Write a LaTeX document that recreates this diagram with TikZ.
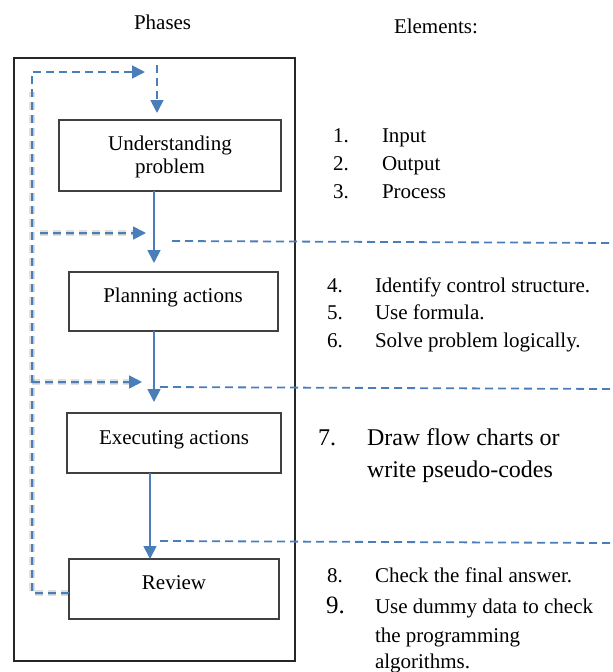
\documentclass[tikz,border=0pt]{standalone}
\usepackage{fontspec}
\setmainfont{Liberation Serif}
\usetikzlibrary{arrows.meta}
\definecolor{flowblue}{RGB}{74,126,187}
\begin{document}
\begin{tikzpicture}[x=1pt,y=-1pt,
  every node/.style={inner sep=0pt, outer sep=0pt},
  txt/.style={font=\fontsize{21}{28}\selectfont},
  bigtxt/.style={font=\fontsize{24}{32}\selectfont},
  frame/.style={draw=black!85, line width=1.5pt, rectangle},
  phase/.style={draw=black!75, line width=1.1pt, rectangle},
  flow/.style={draw=flowblue, line width=1.8pt, -{Triangle[width=13pt,length=13pt]}},
  feedback/.style={draw=flowblue, line width=1.8pt, dash pattern=on 8pt off 5pt},
  fbarrow/.style={feedback, -{Triangle[width=13pt,length=13pt]}},
  ghost/.style={draw=black, line width=6pt, dash pattern=on 8pt off 5pt, opacity=0.12},
  ghostcore/.style={draw=black, line width=3pt, dash pattern=on 8pt off 5pt, opacity=0.12},
]
\useasboundingbox (0,0) rectangle (613,672);

% column headings
\node[txt, anchor=base west] (hphase) at (134,29) {Phases};
\node[txt, anchor=base west] (helem) at (394,33) {Elements:};

% outer frame and phase boxes
\node[frame, minimum width=281pt, minimum height=603pt] (frm) at (154.5,359.5) {};
\node[phase, minimum width=222pt, minimum height=71pt] (u) at (170,155.5) {};
\node[phase, minimum width=209pt, minimum height=59pt] (p) at (173.5,301.5) {};
\node[phase, minimum width=214pt, minimum height=60pt] (e) at (174,443) {};
\node[phase, minimum width=210pt, minimum height=60pt] (r) at (174,589) {};

\node[txt, anchor=base] (ut1) at (170,150) {Understanding};
\node[txt, anchor=base] (ut2) at (170,173) {problem};
\node[txt, anchor=base] (pt) at (173,302) {Planning actions};
\node[txt, anchor=base] (et) at (174,444) {Executing actions};
\node[txt, anchor=base] (rt) at (174,589) {Review};

% main flow
\coordinate (c1) at (154,0);
\coordinate (c2) at (150,0);
\draw[flow] (u.south -| c1) -- ([yshift=9pt]p.north -| c1);
\draw[flow] (p.south -| c1) -- ([yshift=11pt]e.north -| c1);
\draw[flow] (e.south -| c2) -- (r.north -| c2);

% feedback loop and entry arrows
\coordinate (loopbl) at (32,593);
\coordinate (looptl) at (32,72);
\coordinate (looptip) at (145,72);
\coordinate (dropstart) at (157,65);
\coordinate (in1) at (40,233);
\coordinate (in1tip) at (146,233);
\coordinate (in2) at (32,382);
\coordinate (in2tip) at (142,382);

% soft shadows under the feedback lines
\begin{scope}[shift={(2,6)}]
  \foreach \st in {ghost, ghostcore} {
    \draw[\st] (in1) -- ([xshift=-4pt]in1tip);
    \draw[\st] (in2) -- ([xshift=-4pt]in2tip);
    \draw[\st] ([yshift=-4pt]r.west) -- (loopbl) -- ([yshift=-20pt]looptl);
  }
\end{scope}

\draw[fbarrow] ([yshift=-4pt]r.west) -- (loopbl) -- (looptl) -- (looptip);
\draw[fbarrow] (dropstart) -- ([yshift=7pt]u.north -| dropstart);
\draw[fbarrow] (in1) -- (in1tip);
\draw[fbarrow] (in2) -- (in2tip);

% separators between element groups
\coordinate (s1a) at (172,241); \coordinate (s1b) at (613,243);
\coordinate (s2a) at (160,387); \coordinate (s2b) at (613,389);
\coordinate (s3a) at (160,541); \coordinate (s3b) at (613,543);
\draw[feedback] (s1a) -- (s1b);
\draw[feedback] (s2a) -- (s2b);
\draw[feedback] (s3a) -- (s3b);

% elements
\node[txt, anchor=base west] (n1) at (333,142) {1.};
\node[txt, anchor=base west] (l1) at (382,142) {Input};
\node[txt, anchor=base west] (n2) at (333,170) {2.};
\node[txt, anchor=base west] (l2) at (382,170) {Output};
\node[txt, anchor=base west] (n3) at (333,198) {3.};
\node[txt, anchor=base west] (l3) at (382,198) {Process};

\node[txt, anchor=base west] (n4) at (327,292) {4.};
\node[txt, anchor=base west] (l4) at (375,292) {Identify control structure.};
\node[txt, anchor=base west] (n5) at (327,319) {5.};
\node[txt, anchor=base west] (l5) at (375,319) {Use formula.};
\node[txt, anchor=base west] (n6) at (327,347) {6.};
\node[txt, anchor=base west] (l6) at (375,347) {Solve problem logically.};

\node[bigtxt, anchor=base west] (n7) at (318,445) {7.};
\node[bigtxt, anchor=base west] (l7a) at (367,445) {Draw flow charts or};
\node[bigtxt, anchor=base west] (l7b) at (367,477) {write pseudo-codes};

\node[txt, anchor=base west] (n8) at (327,582) {8.};
\node[txt, anchor=base west] (l8) at (375,582) {Check the final answer.};
\node[font=\fontsize{25}{30}\selectfont, anchor=base west] (n9) at (326,613) {9.};
\node[txt, anchor=base west] (l9a) at (375,613) {Use dummy data to check};
\node[txt, anchor=base west] (l9b) at (375,642) {the programming};
\node[txt, anchor=base west] (l9c) at (375,668) {algorithms.};
\end{tikzpicture}
\end{document}
